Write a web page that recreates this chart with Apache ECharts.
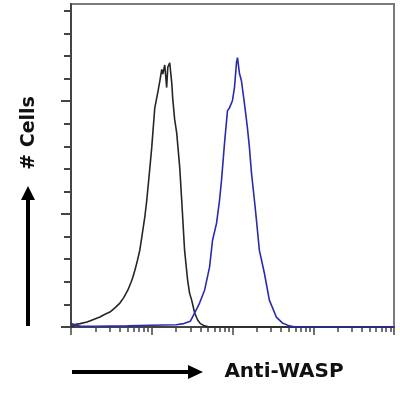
<!DOCTYPE html>
<html><head><meta charset="utf-8">
<script src="https://cdn.jsdelivr.net/npm/echarts@6/dist/echarts.min.js"></script>
<style>html,body{margin:0;padding:0;background:#fff}#c{width:400px;height:396px}</style>
</head><body><div id="c"></div>
<script>
// Fluorescence intensity (log scale) vs cell count
const isotypeData = [[1,0],[1.15,1.2],[1.3,1.5],[1.58,2.2],[1.8,3],[2.28,4.4],[2.6,5.5],[3.03,6.6],[3.5,8.5],[4.03,10.6],[4.5,13],[5.05,16.3],[5.5,19.5],[5.83,22],[6.17,25],[6.53,28.3],[7.11,34],[7.53,39.8],[8.2,48.6],[8.67,56],[9.45,70],[10,79.5],[10.9,97],[11.9,104],[12.6,109],[13.3,114],[13.7,112],[14.5,116],[15.3,106],[15.8,115],[16.7,117],[17.7,108],[18.2,101],[19.2,92],[20.4,85.7],[22.2,70.7],[23.5,56],[25.5,34],[27.8,20.8],[29.4,15],[31.2,11.9],[34,6.2],[37,3.1],[40,1.5],[45,0.5],[52,0],[10000,0]];
const antiWaspData = [[1,1.5],[1.3,0.3],[2,0.3],[5,0.5],[10,0.8],[20,1],[25,1.5],[30,2.5],[34,6.2],[39.1,10.6],[45.1,16.3],[52,26.5],[56.6,38.4],[63.4,45.9],[69.1,56.1],[73.1,64.9],[79.6,81.3],[86.7,95.8],[91.8,97],[100,100.3],[105.8,106],[112,117],[115.3,119.3],[122,112.2],[129,109],[140.6,98.9],[153,88.3],[162,79.5],[172,68],[187,56],[198,47.3],[215,34],[248,23.9],[286,11.9],[349,4.4],[414,1.8],[505,0.5],[600,0],[10000,0]];
const xMajorTicks = [1,10,100,1000,10000];
const xMinorTicks = [2,3,4,5,6,7,8,9,20,30,40,50,60,70,80,90,200,300,400,500,600,700,800,900,2000,3000,4000,5000,6000,7000,8000,9000];
const yMinorTicks = [0,10,20,30,40,50,60,70,80,90,100,110,120,130,140];
const yMajorTicks = [0,50,100];
const yTitle = '# Cells';
const xTitle = 'Anti-WASP';

const chart = echarts.init(document.getElementById('c'));
const axisCol = '#444';
chart.setOption({
  animation:false,
  grid:{left:71,top:4,right:6,bottom:69,show:true,borderColor:'#7a7a7a',borderWidth:2},
  xAxis:[
    {type:'log',logBase:10,min:1,max:10000,position:'bottom',
     axisLine:{show:true,lineStyle:{color:axisCol,width:2}},
     axisTick:{show:true,customValues:xMinorTicks,length:5,lineStyle:{color:axisCol,width:1.5}},
     axisLabel:{show:false},splitLine:{show:false},minorTick:{show:false}},
    {type:'log',logBase:10,min:1,max:10000,position:'bottom',
     axisLine:{show:false},
     axisTick:{show:true,customValues:xMajorTicks,length:8,lineStyle:{color:axisCol,width:1.5}},
     axisLabel:{show:false},splitLine:{show:false}}
  ],
  yAxis:[
    {type:'value',min:0,max:143,position:'left',
     axisLine:{show:true,lineStyle:{color:axisCol,width:2}},
     axisTick:{show:true,customValues:yMinorTicks,length:7,lineStyle:{color:axisCol,width:2}},
     axisLabel:{show:false},splitLine:{show:false}},
    {type:'value',min:0,max:143,position:'left',
     axisLine:{show:false},
     axisTick:{show:true,customValues:yMajorTicks,length:10,lineStyle:{color:axisCol,width:2}},
     axisLabel:{show:false},splitLine:{show:false}}
  ],
  series:[
    {type:'line',data:isotypeData,xAxisIndex:0,yAxisIndex:0,symbol:'none',
     lineStyle:{color:'#262626',width:1.6},z:3},
    {type:'line',data:antiWaspData,xAxisIndex:0,yAxisIndex:0,symbol:'none',
     lineStyle:{color:'#2a2ab0',width:1.6},z:4}
  ],
  graphic:[
    {type:'line',shape:{x1:28,y1:326,x2:28,y2:196},style:{stroke:'#000',lineWidth:4}},
    {type:'polygon',shape:{points:[[21,200],[35,200],[28,186]]},style:{fill:'#000'}},
    {type:'line',shape:{x1:72,y1:372,x2:192,y2:372},style:{stroke:'#000',lineWidth:4}},
    {type:'polygon',shape:{points:[[188,365],[188,379],[203,372]]},style:{fill:'#000'}},
    {type:'text',x:29,y:133,rotation:Math.PI/2,
     style:{text:yTitle,font:'bold 19px "DejaVu Sans"',fill:'#111',align:'center',verticalAlign:'middle'}},
    {type:'text',x:284,y:372,
     style:{text:xTitle,font:'bold 20px "DejaVu Sans"',fill:'#111',align:'center',verticalAlign:'middle'}}
  ]
});
</script></body></html>
